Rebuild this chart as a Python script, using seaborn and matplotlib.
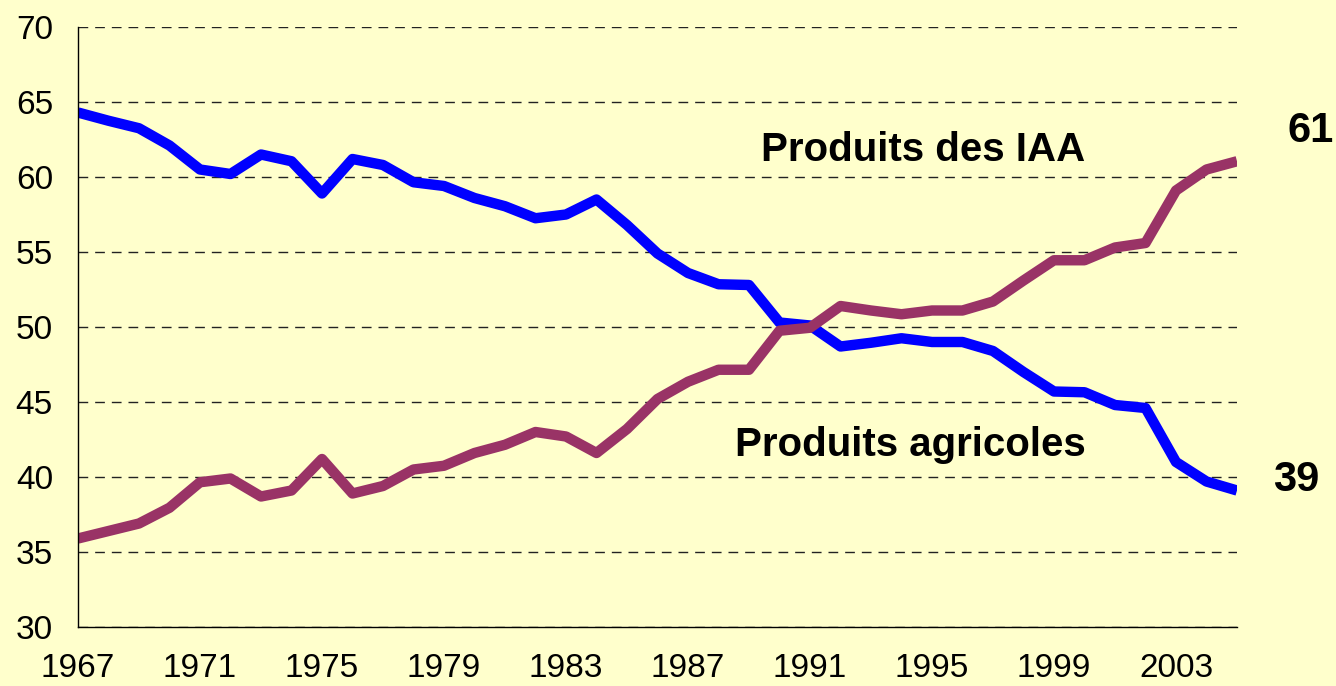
import matplotlib
matplotlib.use("Agg")
import matplotlib.pyplot as plt
import seaborn as sns
import pandas as pd
from matplotlib import font_manager

years = list(range(1967, 2006))
agricoles = [64.3, 63.75, 63.25, 62.1, 60.5, 60.2, 61.5, 61.05, 58.9, 61.2,
             60.8, 59.65, 59.4, 58.6, 58.05, 57.25, 57.5, 58.5, 56.8, 54.9,
             53.6, 52.85, 52.8, 50.3, 50.1, 48.7, 48.95, 49.25, 49.0, 49.0,
             48.4, 47.0, 45.7, 45.65, 44.8, 44.6, 41.0, 39.7, 39.1]
iaa = [35.9, 36.4, 36.9, 37.95, 39.65, 39.9, 38.7, 39.1, 41.2, 38.9,
       39.4, 40.5, 40.75, 41.6, 42.15, 43.0, 42.7, 41.6, 43.2, 45.2,
       46.35, 47.15, 47.15, 49.75, 49.95, 51.4, 51.1, 50.85, 51.1, 51.1,
       51.7, 53.1, 54.45, 54.45, 55.3, 55.6, 59.1, 60.5, 61.05]
series_names = ["Produits agricoles", "Produits des IAA"]
colors = ["#0000FF", "#993366"]
xticks = list(range(1967, 2005, 4))
yticks = list(range(30, 75, 5))

df = pd.DataFrame({
    "year": years * 2,
    "value": agricoles + iaa,
    "serie": [series_names[0]] * len(years) + [series_names[1]] * len(years),
})

sns.set_style("white")
names = {f.name for f in font_manager.fontManager.ttflist}
narrow = "Liberation Sans Narrow" if "Liberation Sans Narrow" in names else "Liberation Sans"
plt.rcParams["font.family"] = [narrow, "DejaVu Sans"]

fig = plt.figure(figsize=(13.36, 6.86), dpi=100)
fig.patch.set_facecolor("#FFFFCC")
ax = fig.add_axes([78 / 1336, 1 - 627 / 686, (1237 - 78) / 1336, 600 / 686])
ax.set_facecolor("#FFFFCC")

sns.lineplot(data=df, x="year", y="value", hue="serie", palette=colors,
             linewidth=7.5, legend=False, ax=ax, solid_capstyle="butt")

ax.set_xlim(1967, 2005)
ax.set_ylim(30, 70)
ax.set_xticks(xticks)
ax.set_yticks(yticks)
ax.set_xlabel("")
ax.set_ylabel("")
ax.tick_params(axis="x", direction="inout", length=12, width=1, labelsize=24, pad=13)
ax.tick_params(axis="y", direction="out", length=6, width=1, labelsize=24, pad=12)
for lab in ax.get_xticklabels() + ax.get_yticklabels():
    lab.set_color("black")
ax.grid(axis="y", linestyle=(0, (7, 5)), color="#222222", linewidth=1)
ax.set_axisbelow(True)
for s in ["top", "right"]:
    ax.spines[s].set_visible(False)
for s in ["left", "bottom"]:
    ax.spines[s].set_color("black")
    ax.spines[s].set_linewidth(1)

ax.text(1994.7, 61.8, "Produits des IAA", fontsize=29, fontweight="bold",
        ha="center", va="center", color="black")
ax.text(1994.3, 42.1, "Produits agricoles", fontsize=29, fontweight="bold",
        ha="center", va="center", color="black")
ax.text(2007.4, 63.1, "61", fontsize=30, fontweight="bold",
        ha="center", va="center", color="black", clip_on=False)
ax.text(2006.95, 39.8, "39", fontsize=30, fontweight="bold",
        ha="center", va="center", color="black", clip_on=False)

fig.savefig("out.png", dpi=100, facecolor=fig.get_facecolor())
